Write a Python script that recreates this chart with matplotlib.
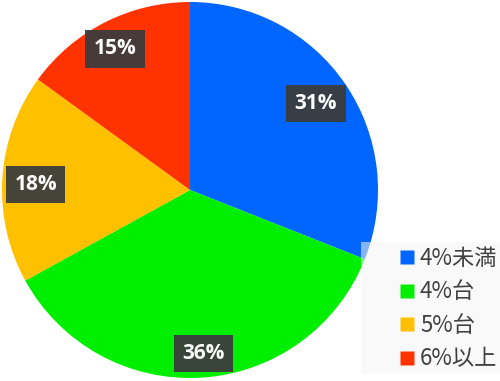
import matplotlib
matplotlib.use("Agg")
import matplotlib.pyplot as plt
from matplotlib.lines import Line2D
from matplotlib.patches import Rectangle

plt.rcParams["font.family"] = ["Noto Sans CJK JP", "DejaVu Sans"]

# data
categories = ["4%未満", "4%台", "5%台", "6%以上"]
shares = [31, 36, 18, 15]
colors = ["#0066ff", "#00ee00", "#ffc000", "#ff3300"]
# label centres (in pie-radius units, relative to pie centre)
label_pos = [(0.67, 0.46), (0.07, -0.87), (-0.82, 0.03), (-0.40, 0.75)]

W, H, DPI = 500, 381, 100
R = 188.0          # pie radius in px
CX, CY = 190, 190  # pie centre in px (from top-left)

fig = plt.figure(figsize=(W / DPI, H / DPI), dpi=DPI)
ax = fig.add_axes([0, 0, 1, 1])

ax.pie(shares, colors=colors, startangle=90, counterclock=False,
       radius=1.0, wedgeprops=dict(linewidth=0))
ax.set_xlim(-CX / R, (W - CX) / R)
ax.set_ylim(-(H - CY) / R, CY / R)
ax.set_aspect("equal")
ax.axis("off")

for s, (x, y) in zip(shares, label_pos):
    ax.text(x, y, f"{s}%", ha="center", va="center", color="white",
            fontsize=15, fontweight="bold", family=["Open Sans", "DejaVu Sans"],
            bbox=dict(boxstyle="square,pad=0.4", facecolor="#3c3c3c",
                      edgecolor="none", alpha=0.95))

# legend background (semi-transparent, overlaps the pie edge)
fig.patches.append(Rectangle((361 / W, 1 - 374 / H), 139 / W, 132 / H,
                             transform=fig.transFigure, facecolor="#f5f5f5",
                             alpha=0.55, edgecolor="none", zorder=3))

handles = [Line2D([], [], marker="s", linestyle="none", markersize=10,
                  markerfacecolor=c, markeredgecolor="none") for c in colors]
leg = fig.legend(handles, categories, loc="upper left",
                 bbox_to_anchor=(400 / W, 1 - 247 / H), frameon=False,
                 fontsize=16, labelcolor="#404040", handlelength=0.65,
                 handletextpad=0.25, labelspacing=0.47, borderpad=0,
                 borderaxespad=0)
leg.set_zorder(4)

fig.savefig("out.png", dpi=DPI)
